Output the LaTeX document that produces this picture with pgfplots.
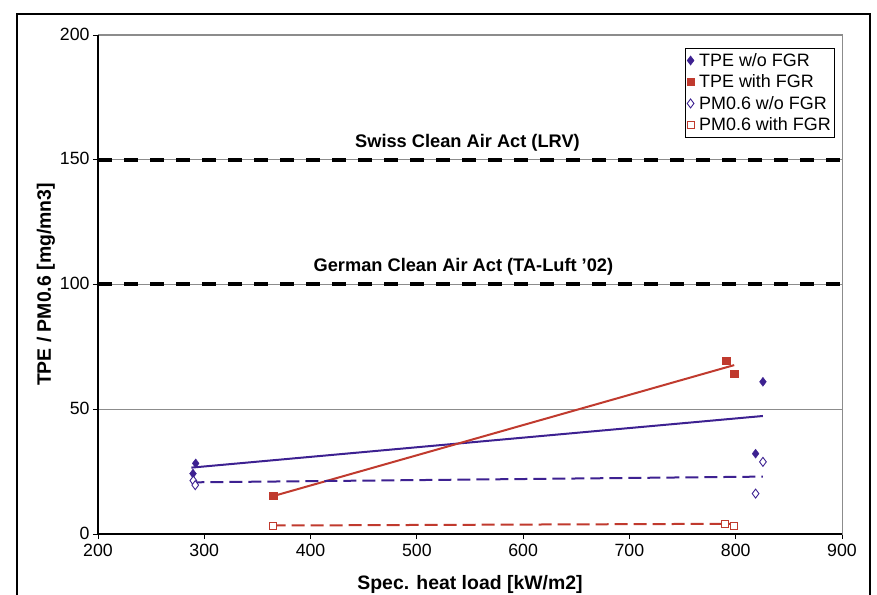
\documentclass[border=0pt]{standalone}
\usepackage{fontspec}
\setmainfont{Liberation Sans}
\usepackage{pgfplots}
\pgfplotsset{compat=1.18}
\definecolor{indigo}{HTML}{3D2191}
\definecolor{brick}{HTML}{C03A2E}
\definecolor{framegray}{HTML}{8C8C8C}

\begin{document}
\begin{tikzpicture}
\path[use as bounding box] (0bp,0bp) rectangle (877bp,595bp);
\draw[line width=2bp] (17bp,-10bp) rectangle (870bp,581bp);
\begin{axis}[
  at={(98bp,61bp)}, anchor=south west, scale only axis,
  width=744bp, height=499bp,
  xmin=200, xmax=900, ymin=0, ymax=200,
  xtick={200,300,...,900}, ytick={0,50,...,200},
  tick align=outside, xtick pos=bottom, ytick pos=left,
  major tick length=5bp,
  ymajorgrids, major grid style={framegray, line width=0.8bp},
  axis line style={framegray, line width=1bp},
  tick style={black, line width=0.8bp},
  ticklabel style={font=\fontsize{17.8}{20}\selectfont},
  xticklabel style={yshift=-1.5bp},
  yticklabel style={yshift=1bp},
  /pgf/number format/assume math mode=true,
  xlabel={\bfseries Spec. heat load [kW/m2]},
  ylabel={\bfseries TPE / PM0.6 [mg/mn3]},
  label style={font=\fontsize{19.5}{22}\selectfont},
  xlabel style={yshift=-12bp},
  ylabel style={yshift=-2bp},
  legend style={at={(0.9906,0.974)}, anchor=north east, draw=black,
    line width=0.6bp, font=\fontsize{18}{21}\selectfont,
    inner xsep=2bp, inner ysep=3bp, row sep=3bp,
    /tikz/every odd column/.append style={column sep=3bp}},
  legend cell align=left,
  clip=false,
]
% limit lines
\addplot[framegray, line width=0.8bp, forget plot]
  coordinates {(200,150) (900,150)};
\addplot[framegray, line width=0.8bp, forget plot]
  coordinates {(200,100) (900,100)};
\addplot[black, line width=4bp, dash pattern=on 14bp off 12bp, forget plot]
  coordinates {(200,150) (900,150)};
\addplot[black, line width=4bp, dash pattern=on 14bp off 12bp, forget plot]
  coordinates {(200,100) (900,100)};

% trend lines
\addplot[indigo, line width=2bp, forget plot]
  coordinates {(287.8,26.6) (825.6,47.3)};
\addplot[brick, line width=2bp, forget plot]
  coordinates {(364.9,15.2) (798.6,67.7)};
\addplot[indigo, line width=2bp, dash pattern=on 13bp off 6bp, forget plot]
  coordinates {(287.8,20.7) (825.6,23.0)};
\addplot[brick, line width=2bp, dash pattern=on 13bp off 6bp, forget plot]
  coordinates {(364.3,3.4) (798.6,4.1)};

% data
\addplot[only marks, mark=diamond*, mark size=4.5bp, indigo]
  coordinates {(291.9,28.3) (289.4,24.2) (825.6,61.0) (818.7,32.2)};
\addplot[only marks, mark=square*, mark size=3.6bp, brick]
  coordinates {(364.9,15.2) (791.1,69.3) (798.6,64.1)};
\addplot[only marks, mark=diamond*, mark size=4.5bp, indigo, fill=white, line width=0.9bp]
  coordinates {(289.7,21.4) (291.5,19.6) (825.6,28.9) (818.7,16.2)};
\addplot[only marks, mark=square*, mark size=3.6bp, brick, fill=white, line width=0.9bp]
  coordinates {(364.3,3.2) (790.0,4.1) (798.6,3.2)};
\legend{TPE w/o FGR, TPE with FGR, PM0.6 w/o FGR, PM0.6 with FGR}

\node[font=\bfseries\fontsize{18.3}{21}\selectfont] at (axis cs:547.6,156.7) {Swiss Clean Air Act (LRV)};
\node[font=\bfseries\fontsize{18.3}{21}\selectfont] at (axis cs:543.8,107.1) {German Clean Air Act (TA-Luft '02)};

% dark left and bottom axes
\draw[black, line width=1.4bp] (rel axis cs:0,1) -- (rel axis cs:0,0) -- (rel axis cs:1,0);
\end{axis}
\end{tikzpicture}
\end{document}
